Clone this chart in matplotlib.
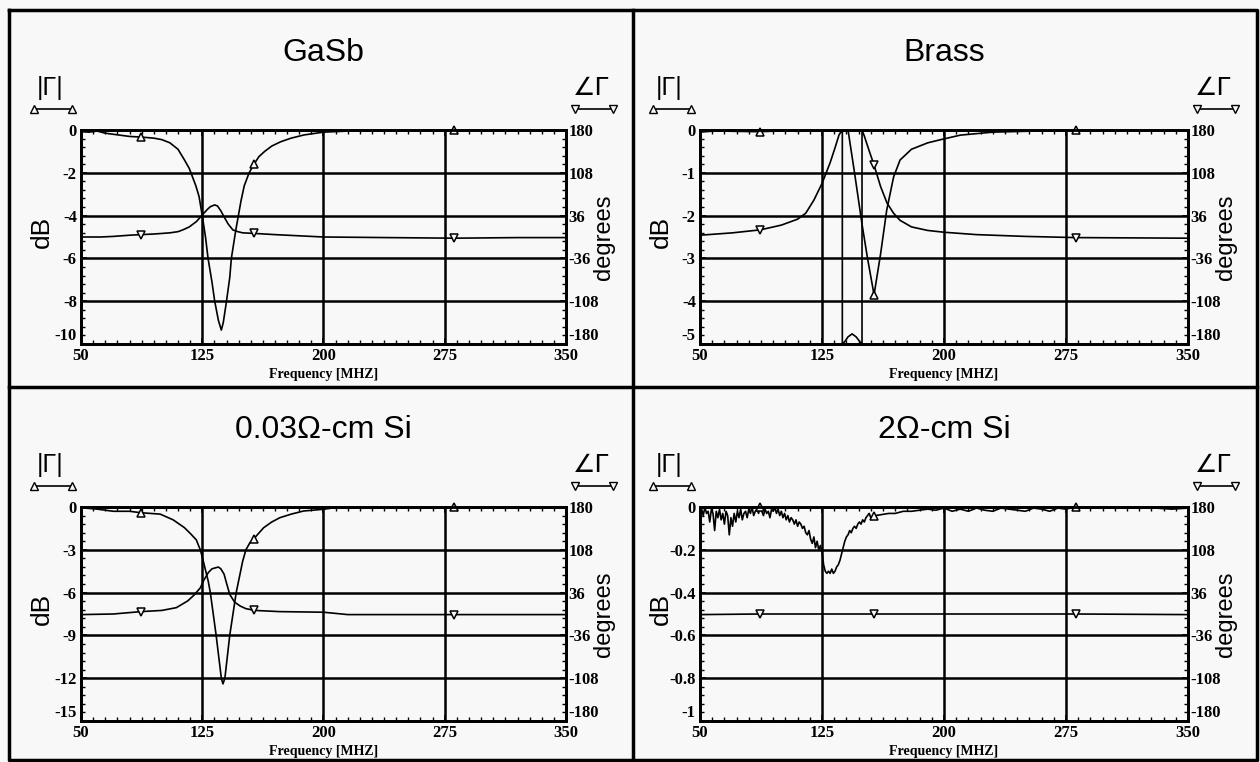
import numpy as np
import matplotlib.pyplot as plt
from matplotlib.lines import Line2D
from matplotlib.ticker import AutoMinorLocator

plt.rcParams['axes.unicode_minus'] = False

W, H = 1260, 762

freq_ticks = [50, 125, 200, 275, 350]
phase_ticks = [180, 108, 36, -36, -108, -180]
mark_freqs = [87, 157, 281]

titles = ['GaSb', 'Brass', '0.03Ω-cm Si', '2Ω-cm Si']

gasb_db_ticks = [0, -2, -4, -6, -8, -10]
brass_db_ticks = [0, -1, -2, -3, -4, -5]
si003_db_ticks = [0, -3, -6, -9, -12, -15]
si2_db_ticks = [0, -0.2, -0.4, -0.6, -0.8, -1]

# GaSb
gasb_mag_f = [50, 55, 60, 65, 70, 75, 80, 87, 95, 100, 105, 110, 114, 117, 119, 121, 123,
              125, 127, 128.6, 131, 132.7, 135, 136.8, 138, 140, 142, 143, 145.7, 149, 151,
              154, 157, 160, 163.6, 168, 173.5, 180, 188, 200, 215, 240, 281, 300, 350]
gasb_mag = [-0.08, -0.1, -0.05, -0.15, -0.2, -0.25, -0.3, -0.33, -0.38, -0.45, -0.6, -0.9,
            -1.4, -1.8, -2.2, -2.6, -3.1, -4.0, -5.0, -6.0, -7.1, -8.0, -8.9, -9.35, -9.0,
            -8.0, -6.9, -6.0, -4.7, -3.3, -2.6, -2.0, -1.6, -1.25, -1.0, -0.75, -0.55, -0.38,
            -0.23, -0.1, -0.05, -0.02, 0.0, 0.0, 0.0]
gasb_ph_f = [50, 62, 70, 80, 87, 95, 105, 110, 113, 117, 121.4, 125, 128, 130, 132.7, 134.5,
             136.5, 138.9, 141, 143.9, 147, 150, 157.4, 170, 185, 200, 240, 281, 320, 350]
gasb_ph = [0, 0, 1, 3, 4, 5, 7, 9, 12, 17, 26, 37, 46, 51, 54, 52, 44, 32, 22, 12, 9, 7, 6,
           4, 2, 0, -1, -2, -1, -1]

# Brass
brass_mag_f = [50, 60, 70, 87, 100, 110, 120, 130, 136, 141, 145, 149.6, 153, 157, 161,
               164.8, 169, 173, 180, 190, 197.5, 210, 230, 281, 350]
brass_mag = [-0.05, -0.02, -0.03, -0.04, -0.02, -0.03, -0.02, -0.02, -0.03, 0.0, -1.0,
             -2.2, -3.0, -3.85, -2.9, -1.87, -1.1, -0.7, -0.45, -0.3, -0.23, -0.12, -0.05,
             0.0, 0.0]
brass_ph_f = [50, 70, 87, 100, 110, 115, 120, 125, 130, 133, 135.5, 137.5, 137.5, 139, 141,
              143.5, 146, 148.5, 149.6, 149.6, 151, 154, 157, 161, 165, 169, 173, 180, 190,
              200, 220, 250, 281, 350]
brass_ph = [3, 7, 12, 20, 30, 40, 62, 90, 125, 150, 172, 180, -180, -176, -168, -163, -168,
            -177, -180, 180, 170, 145, 121, 85, 57, 40, 28, 17, 11, 8, 4, 1, -1, -2]

# 0.03 ohm-cm Si
si003_mag_f = [50, 60, 70, 80, 87, 99, 107, 114, 118, 121.3, 123.8, 125, 128.7, 130, 133.6,
               136.8, 137.8, 139, 142, 146, 150, 152, 154.5, 157.5, 163, 168, 173, 180,
               187.7, 200, 210, 240, 281, 350]
si003_mag = [-0.05, -0.15, -0.3, -0.3, -0.4, -0.5, -0.9, -1.45, -1.9, -2.3, -3.0, -3.5, -5.2,
             -6.0, -9.0, -12.0, -12.4, -12.0, -9.0, -6.0, -3.8, -3.0, -2.5, -2.15, -1.45,
             -1.05, -0.75, -0.5, -0.28, -0.16, 0.0, 0.0, 0.0, 0.0]
si003_ph_f = [50, 70, 87, 100, 109, 116, 120, 123.8, 126, 128.7, 131, 133.6, 135, 136.5,
              138.5, 140, 142, 145, 148.4, 152, 157.5, 173, 200, 215, 279, 350]
si003_ph = [-1, 0, 4, 6, 10.7, 22, 32, 44, 57, 69.5, 76, 78, 79, 76, 67, 52, 33, 20, 13.5, 9,
            6, 4, 3, -1, -1, -1]

# 2 ohm-cm Si (noisy magnitude, 1 MHz steps up to 155)
si2_mag_f = list(range(50, 156)) + [158, 162, 166, 170, 175, 180, 185, 190, 195, 200, 205,
                                     210, 215, 220, 225, 230, 235, 240, 245, 250, 255, 260,
                                     265, 270, 275, 280, 290, 300, 310, 320, 330, 340, 350]
si2_mag = [-0.06, -0.01, -0.04, 0.0, -0.03, -0.02, -0.07, -0.01, -0.03, -0.11,
           -0.02, -0.05, -0.01, -0.06, -0.03, -0.08, -0.02, -0.04, -0.13, -0.05,
           -0.09, -0.03, -0.07, -0.02, -0.05, -0.01, -0.06, -0.03, -0.02, -0.05,
           -0.01, -0.03, 0.0, -0.04, -0.02, -0.01, -0.03, 0.0, -0.02, -0.04,
           -0.01, -0.03, -0.02, -0.05, -0.01, -0.02, 0.0, -0.03, -0.01, -0.04,
           -0.02, -0.05, -0.03, -0.06, -0.04, -0.07, -0.05, -0.06, -0.08, -0.06,
           -0.09, -0.07, -0.08, -0.10, -0.09, -0.12, -0.13, -0.11, -0.15, -0.17,
           -0.14, -0.19, -0.16, -0.20, -0.18, -0.21, -0.27, -0.30, -0.31, -0.30,
           -0.31, -0.29, -0.31, -0.30, -0.28, -0.27, -0.25, -0.22, -0.19, -0.16,
           -0.14, -0.13, -0.11, -0.12, -0.10, -0.09, -0.10, -0.08, -0.07, -0.08,
           -0.06, -0.07, -0.05, -0.04, -0.03, -0.05,
           -0.04, -0.035, -0.03, -0.03, -0.02, -0.02, -0.015, -0.01, -0.015, -0.005, -0.02,
           -0.01, -0.02, -0.005, -0.015, -0.02, -0.005, -0.01, -0.015, -0.02, -0.005, -0.01,
           -0.02, -0.005, -0.01, 0.0, -0.005, 0.0, -0.005, 0.0, -0.005, -0.01, -0.005]
si2_ph_f = [50, 87, 157, 281, 350]
si2_ph = [-1, 0, 0, 0, -1]

panels = [
    (titles[0], gasb_db_ticks, gasb_mag_f, gasb_mag, gasb_ph_f, gasb_ph),
    (titles[1], brass_db_ticks, brass_mag_f, brass_mag, brass_ph_f, brass_ph),
    (titles[2], si003_db_ticks, si003_mag_f, si003_mag, si003_ph_f, si003_ph),
    (titles[3], si2_db_ticks, si2_mag_f, si2_mag, si2_ph_f, si2_ph),
]

# axes boxes in pixels: left, top, width, height
boxes = [(81, 130, 485, 214), (700, 130, 488, 214), (81, 507, 485, 214), (700, 507, 488, 214)]

bg = '#f8f8f8'
fig = plt.figure(figsize=(W / 100, H / 100), dpi=100, facecolor=bg)


def fx(x):
    return x / W


def fy(y):
    return 1 - y / H


serif = 'Liberation Serif'
sans = 'Liberation Sans'

for (title, dbt, mf, mv, pf, pv), (l, t, w, h) in zip(panels, boxes):
    ax = fig.add_axes([fx(l), fy(t + h), w / W, h / H])
    ax.set_facecolor(bg)
    ax.set_xlim(50, 350)
    ax.set_ylim(dbt[-1], dbt[0])
    ax.set_xticks(freq_ticks)
    ax.set_xticklabels([str(v) for v in freq_ticks])
    ax.set_yticks(dbt)
    ax.set_yticklabels(['%g' % v for v in dbt])
    ax.xaxis.set_minor_locator(AutoMinorLocator(10))
    ax.yaxis.set_minor_locator(AutoMinorLocator(5))
    ax.tick_params(which='both', direction='in', top=True, colors='k')
    ax.tick_params(which='major', length=4, width=1.2, pad=3, labelsize=12)
    ax.tick_params(which='minor', length=3, width=1)
    for lab in ax.get_xticklabels() + ax.get_yticklabels():
        lab.set_fontfamily(serif)
        lab.set_fontweight('bold')
    ax.get_yticklabels()[-1].set_verticalalignment('bottom')
    for s in ax.spines.values():
        s.set_linewidth(2)
    for v in dbt[1:-1]:
        ax.axhline(v, color='k', lw=1.8, zorder=1)
    for v in freq_ticks[1:-1]:
        ax.axvline(v, color='k', lw=1.8, zorder=1)

    ax.plot(mf, mv, color='k', lw=1.2, zorder=3)
    ax.plot(mark_freqs, np.interp(mark_freqs, mf, mv), linestyle='none', marker='^',
            ms=6, mfc=bg, mec='k', mew=1.1, zorder=4, clip_on=False)

    ax2 = ax.twinx()
    ax2.set_ylim(-180, 180)
    ax2.set_yticks(phase_ticks)
    ax2.set_yticklabels([str(v) for v in phase_ticks])
    ax2.yaxis.set_minor_locator(AutoMinorLocator(5))
    ax2.tick_params(which='both', direction='in')
    ax2.tick_params(which='major', length=4, width=1.2, pad=2, labelsize=12)
    ax2.tick_params(which='minor', length=3, width=1)
    for lab in ax2.get_yticklabels():
        lab.set_fontfamily(serif)
        lab.set_fontweight('bold')
    ax2.get_yticklabels()[-1].set_verticalalignment('bottom')
    for s in ax2.spines.values():
        s.set_linewidth(2)
    ax2.plot(pf, pv, color='k', lw=1.2, zorder=3)
    ax2.plot(mark_freqs, np.interp(mark_freqs, pf, pv), linestyle='none', marker='v',
             ms=6, mfc=bg, mec='k', mew=1.1, zorder=4)

    ax.set_xlabel('Frequency [MHZ]', fontfamily=serif, fontweight='bold', fontsize=10,
                  labelpad=3)

    cx = l + w / 2
    fig.text(fx(cx), fy(t - 77), title, ha='center', va='center', fontsize=23,
             fontfamily=sans)
    fig.text(fx(l - 39), fy(t + h / 2 - 5), 'dB', ha='center', va='center', rotation=90,
             fontsize=19, fontfamily=sans)
    fig.text(fx(l + w + 38), fy(t + h / 2), 'degrees', ha='center', va='center',
             rotation=90, fontsize=17, fontfamily=sans)
    fig.text(fx(l - 31), fy(t - 42), '|Γ|', ha='center', va='center', fontsize=18,
             fontfamily=sans)
    fig.text(fx(l + w + 25), fy(t - 42), '∠Γ', ha='center', va='center', fontsize=18,
             fontfamily='DejaVu Sans')
    # legend samples
    fig.add_artist(Line2D([fx(l - 47), fx(l - 9)], [fy(t - 21)] * 2, color='k', lw=1.2,
                          marker='^', ms=6, mfc=bg, mec='k'))
    fig.add_artist(Line2D([fx(l + w + 9), fx(l + w + 47)], [fy(t - 21)] * 2, color='k',
                          lw=1.2, marker='v', ms=6, mfc=bg, mec='k'))

# frame and dividers
frame = dict(color='k', lw=2.5)
fig.add_artist(Line2D([fx(9), fx(1257), fx(1257), fx(9), fx(9)],
                      [fy(10), fy(10), fy(760), fy(760), fy(10)], **frame))
fig.add_artist(Line2D([fx(633), fx(633)], [fy(10), fy(760)], **frame))
fig.add_artist(Line2D([fx(9), fx(1257)], [fy(387), fy(387)], **frame))

fig.savefig('out.png', dpi=100, facecolor=bg)
